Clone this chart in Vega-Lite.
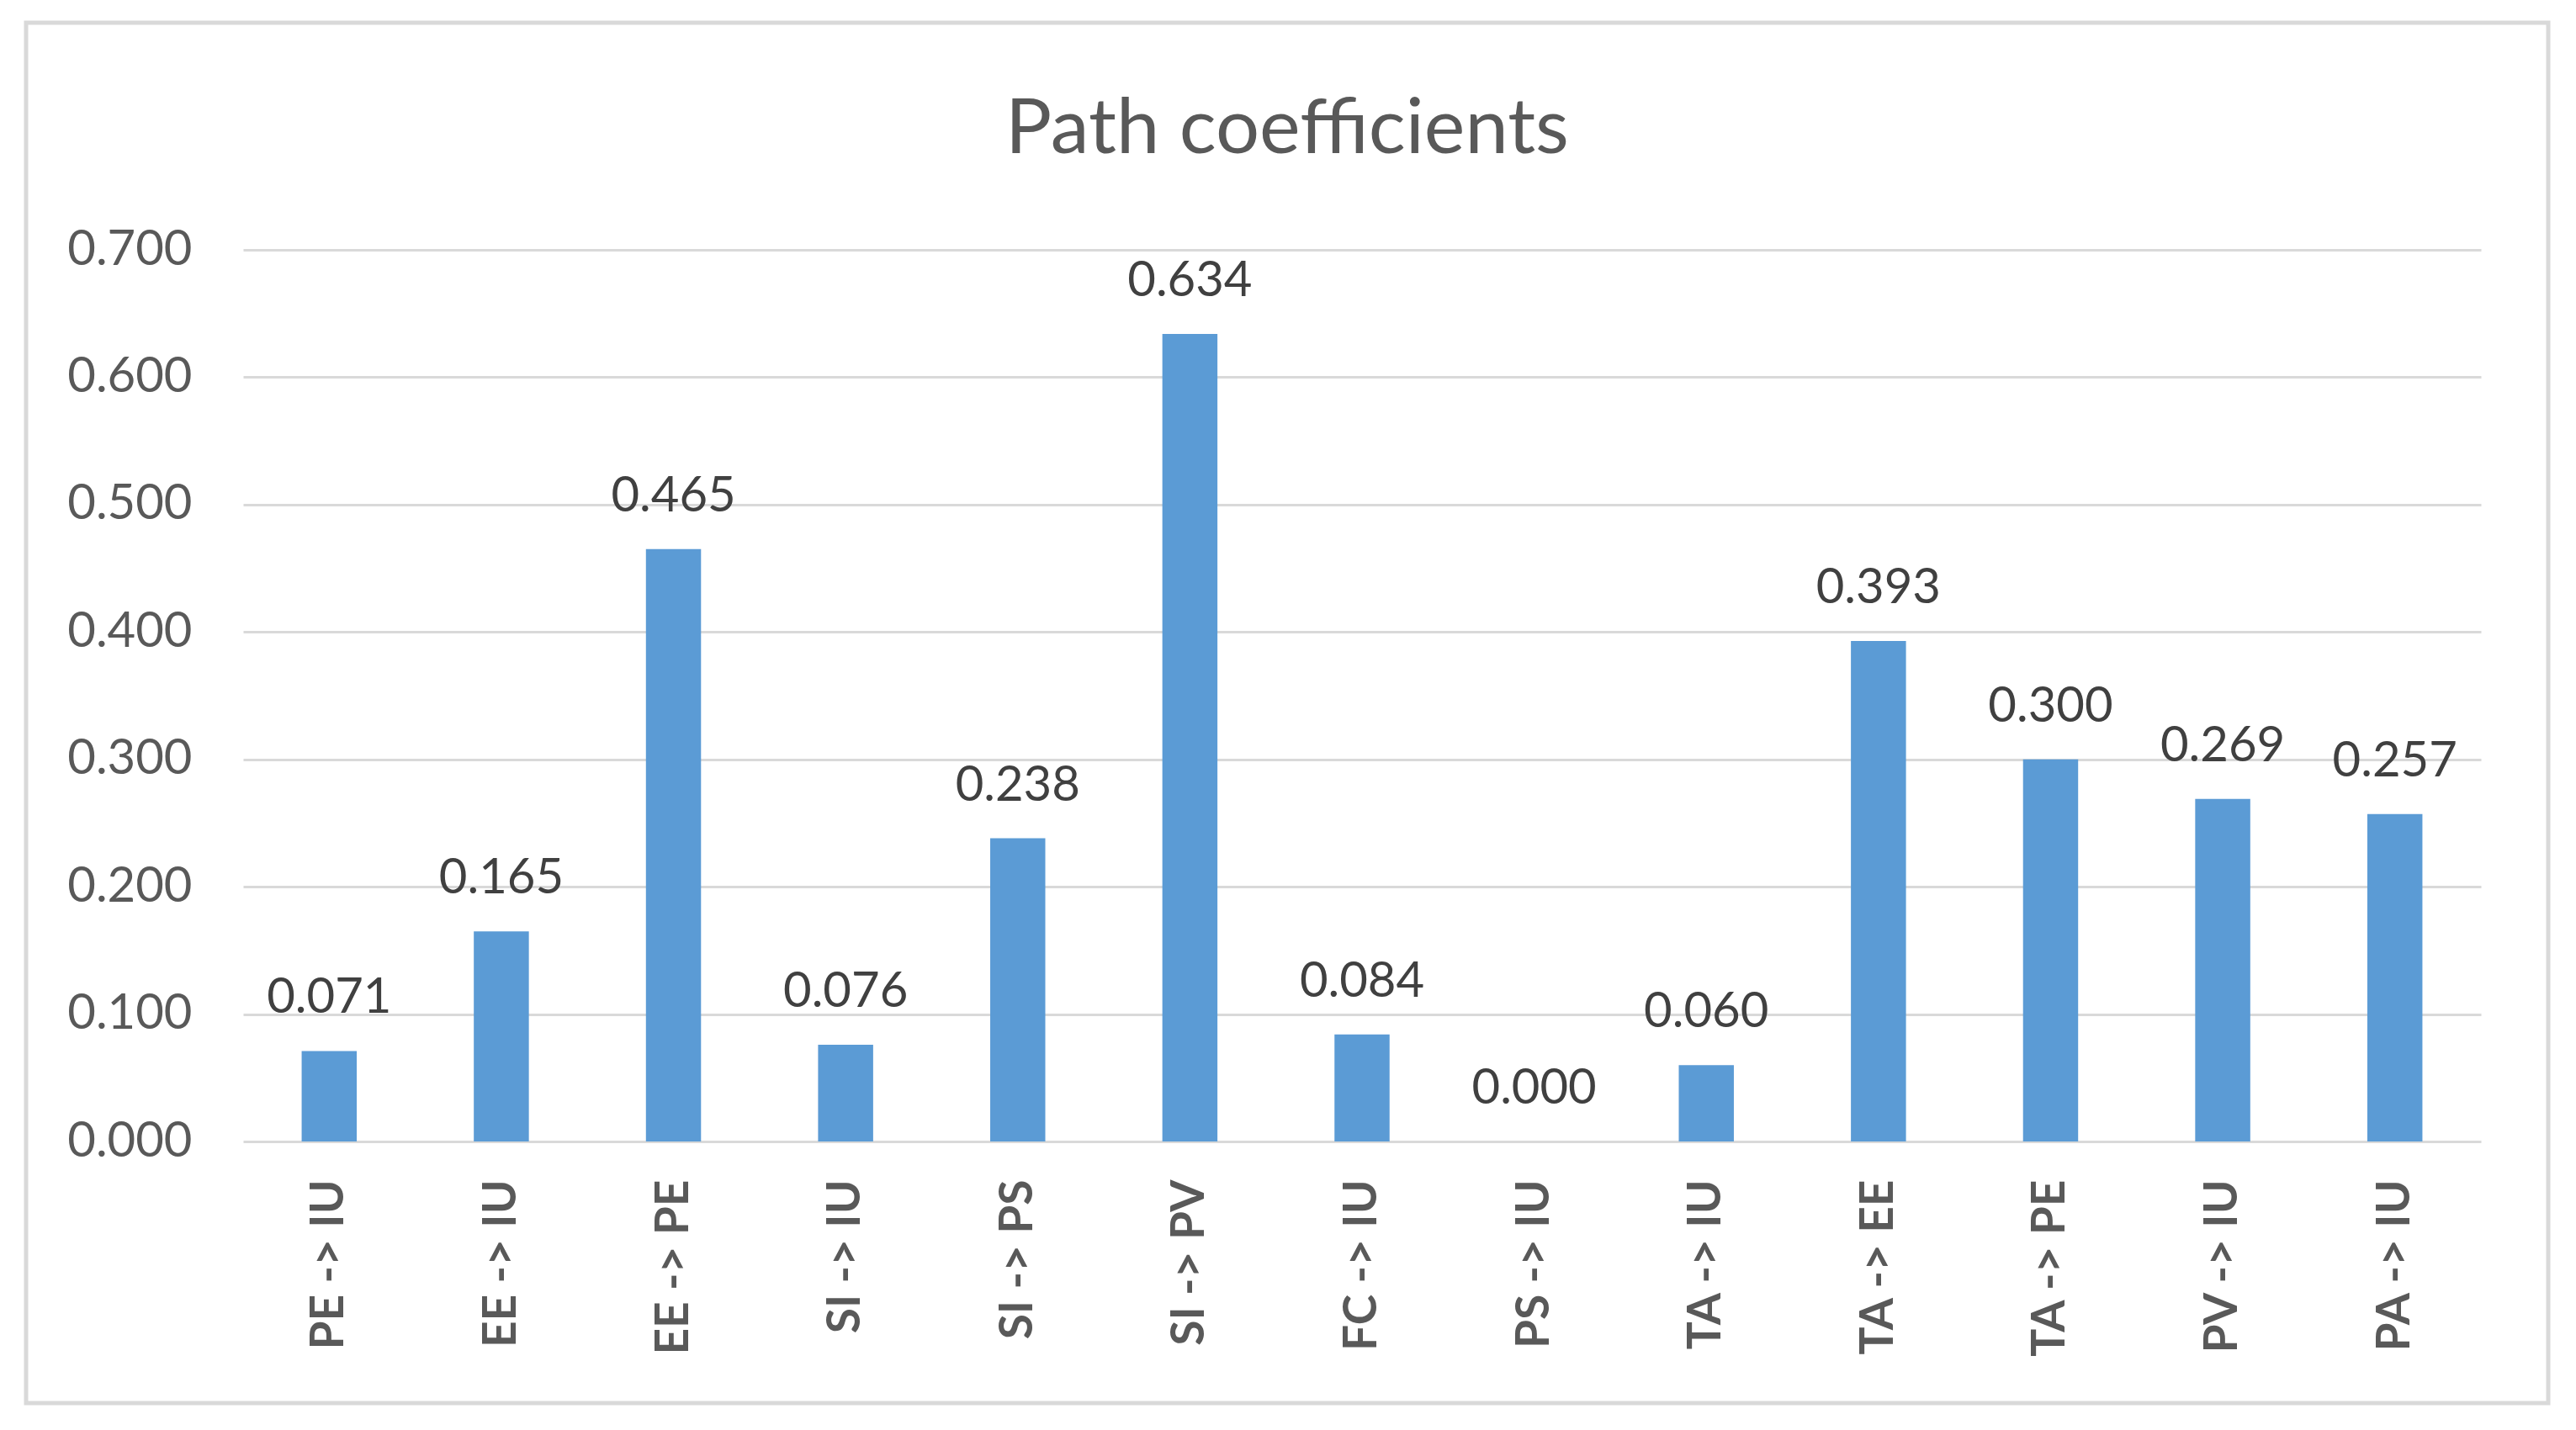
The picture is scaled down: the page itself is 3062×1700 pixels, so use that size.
{
  "$schema": "https://vega.github.io/schema/vega-lite/v6.json",
  "width": 2998,
  "height": 1641,
  "autosize": {"type": "none"},
  "padding": {"left": 31, "top": 27, "right": 33, "bottom": 32},
  "background": "white",
  "config": {
    "view": {"stroke": "#d9d9d9", "strokeWidth": 5},
    "font": "Lato"
  },
  "title": {
    "text": "Path coefficients",
    "fontSize": 92,
    "font": "Lato",
    "fontWeight": "normal",
    "color": "#595959",
    "anchor": "middle",
    "frame": "group",
    "baseline": "alphabetic",
    "offset": -247
  },
  "data": {
    "values": [
      {"path": "PE -> IU", "value": 0.071},
      {"path": "EE -> IU", "value": 0.165},
      {"path": "EE -> PE", "value": 0.465},
      {"path": "SI -> IU", "value": 0.076},
      {"path": "SI -> PS", "value": 0.238},
      {"path": "SI -> PV", "value": 0.634},
      {"path": "FC -> IU", "value": 0.084},
      {"path": "PS -> IU", "value": 0.000},
      {"path": "TA -> IU", "value": 0.060},
      {"path": "TA -> EE", "value": 0.393},
      {"path": "TA -> PE", "value": 0.300},
      {"path": "PV -> IU", "value": 0.269},
      {"path": "PA -> IU", "value": 0.257}
    ]
  },
  "encoding": {
    "x": {
      "field": "path",
      "type": "nominal",
      "sort": null,
      "scale": {"range": [258, 2918], "paddingInner": 0.68, "paddingOuter": 0.34},
      "axis": {
        "title": null,
        "orient": "bottom",
        "offset": -266,
        "domain": false,
        "ticks": false,
        "tickSize": 0,
        "grid": false,
        "labelPadding": 0,
        "labelAngle": -90,
        "labelAlign": "right",
        "labelBaseline": "middle",
        "labelFont": "Lato",
        "labelFontSize": 55,
        "labelFontWeight": "bold",
        "labelColor": "#595959",
        "labelLimit": 0
      }
    },
    "y": {
      "field": "value",
      "type": "quantitative",
      "scale": {"domain": [0, 0.7], "range": [1330, 270], "nice": false, "zero": true},
      "axis": {
        "title": null,
        "values": [0, 0.1, 0.2, 0.3, 0.4, 0.5, 0.6, 0.7],
        "format": ".3f",
        "offset": -197,
        "domain": false,
        "ticks": false,
        "tickSize": 0,
        "labelPadding": 0,
        "grid": true,
        "gridColor": "#d9d9d9",
        "gridWidth": 3,
        "labelFont": "Lato",
        "labelFontSize": 58,
        "labelColor": "#595959"
      }
    }
  },
  "layer": [
    {
      "mark": {"type": "bar", "color": "#5b9bd5"}
    },
    {
      "mark": {"type": "text", "dy": -45, "baseline": "alphabetic", "fontSize": 58, "font": "Lato", "color": "#404040"},
      "encoding": {
        "text": {"field": "value", "type": "quantitative", "format": ".3f"}
      }
    }
  ]
}
